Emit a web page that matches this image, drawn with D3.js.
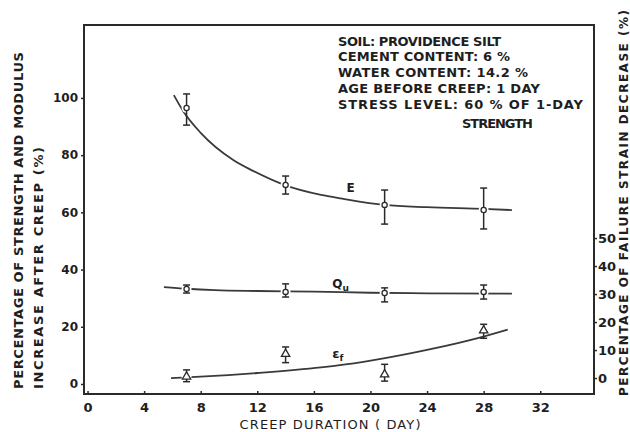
<!DOCTYPE html>
<html>
<head>
<meta charset="utf-8">
<script src="https://cdn.jsdelivr.net/npm/d3@7"></script>
<style>
  body { margin: 0; background: #fff; }
  svg text { font-family: 'DejaVu Sans', sans-serif; fill: #1e1e1e; }
</style>
</head>
<body>
<svg id="canvas" width="630" height="432"></svg>
<script>
// Measured points (creep duration, days)
let days = [7, 14, 21, 28];

// E (modulus increase, left axis)
let eMean = [96.5, 69.6, 62.6, 60.8];
let eHigh = [101.4, 72.7, 67.8, 68.5];
let eLow = [90.5, 66.4, 55.9, 54.2];

// Qu (strength increase, left axis)
let quMean = [33.2, 32.2, 31.8, 32.2];
let quHigh = [34.6, 35.0, 33.6, 34.6];
let quLow = [31.8, 30.4, 28.7, 29.7];

// failure strain decrease (right axis)
let efMean = [0.5, 8.6, 1.3, 17.0];
let efHigh = [2.9, 11.1, 4.9, 19.2];
let efLow = [-1.3, 5.5, -1.1, 14.2];

// Fitted curves
let eCurveDays = [6.1, 6.8, 8, 10.3, 11.7, 13.9, 16.5, 18, 21, 24, 28, 30];
let eCurveValues = [101, 95.1, 87.8, 78.3, 74.5, 69.6, 66.1, 64.8, 62.6, 61.8, 61.2, 60.8];
let quCurveDays = [5.4, 7, 9, 12, 16, 20, 24, 30];
let quCurveValues = [33.9, 33.3, 32.8, 32.5, 32.3, 31.9, 31.7, 31.6];
let efCurveDays = [5.9, 8, 12, 16.5, 19.5, 22.8, 27.1, 29.7];
let efCurveValues = [0, 0.5, 1.8, 3.8, 5.8, 8.8, 13.6, 17.3];

// Tick labels
let xTicks = [0, 4, 8, 12, 16, 20, 24, 28, 32];
let leftTicks = [0, 20, 40, 60, 80, 100];
let rightTicks = [0, 10, 20, 30, 40, 50];

let notes = [
    'SOIL: PROVIDENCE  SILT',
    'CEMENT  CONTENT: 6 %',
    'WATER  CONTENT: 14.2 %',
    'AGE  BEFORE  CREEP: 1  DAY',
    'STRESS  LEVEL: 60 %  OF  1-DAY'
];

let canvas = d3.select('#canvas');
let ink = '#2a2a2a';

// Scales
let x = d3.scaleLinear().domain([-0.25, 35.8]).range([84, 594]);
let yLeft = d3.scaleLinear().domain([-3.5, 125.5]).range([394, 25]);
let yRight = d3.scaleLinear().domain([-5.7, 126.1]).range([394, 25]);

// Frame
canvas.append('rect')
    .attr('x', 84).attr('y', 25)
    .attr('width', 510).attr('height', 369)
    .attr('fill', 'none')
    .attr('stroke', ink)
    .attr('stroke-width', 2);

// Axes
let styleAxis = (g, size) => {
    g.select('.domain').remove();
    g.selectAll('line').attr('stroke', ink).attr('stroke-width', 1.5);
    g.selectAll('text')
        .style('font-size', size + 'px')
        .style('font-weight', 'bold')
        .attr('fill', '#1e1e1e');
};

canvas.append('g')
    .attr('transform', 'translate(84,0)')
    .call(d3.axisLeft(yLeft).tickValues(leftTicks).tickSize(3).tickPadding(3))
    .call((g) => styleAxis(g, 12));

canvas.append('g')
    .attr('transform', 'translate(0,394)')
    .call(d3.axisBottom(x).tickValues(xTicks).tickSize(-3).tickPadding(9))
    .call((g) => styleAxis(g, 13));

canvas.append('g')
    .attr('transform', 'translate(594,0)')
    .call(d3.axisRight(yRight).tickValues(rightTicks).tickSize(3).tickPadding(1))
    .call((g) => styleAxis(g, 13));

// Axis titles
canvas.append('text')
    .attr('x', 330).attr('y', 429)
    .attr('text-anchor', 'middle')
    .attr('textLength', 181)
    .style('font-size', '13px')
    .text('CREEP  DURATION  ( DAY)');

canvas.append('text')
    .attr('transform', 'translate(23,389) rotate(-90)')
    .attr('textLength', 337)
    .style('font-size', '13px')
    .style('font-weight', 'bold')
    .text('PERCENTAGE  OF  STRENGTH  AND  MODULUS');

canvas.append('text')
    .attr('transform', 'translate(43,389) rotate(-90)')
    .attr('textLength', 242)
    .style('font-size', '13px')
    .style('font-weight', 'bold')
    .text('INCREASE  AFTER  CREEP  (%)');

canvas.append('text')
    .attr('transform', 'translate(628,396) rotate(-90)')
    .attr('textLength', 386)
    .style('font-size', '12px')
    .style('font-weight', 'bold')
    .text('PERCENTAGE  OF  FAILURE  STRAIN  DECREASE  (%)');

// Notes
let noteWidths = [163, 172, 190, 202, 245];
let noteBase = [46, 61, 77, 93, 109];
notes.forEach((line, i) => {
    canvas.append('text')
        .attr('x', 338).attr('y', noteBase[i])
        .attr('textLength', noteWidths[i])
        .style('font-size', '13px')
        .style('font-weight', 'bold')
        .text(line);
});
canvas.append('text')
    .attr('x', 462).attr('y', 128)
    .attr('textLength', 71)
    .style('font-size', '13px')
    .style('font-weight', 'bold')
    .text('STRENGTH');

// Curves
let drawCurve = (cx, cy, yScale) => {
    let pts = cx.map((d, i) => [d, cy[i]]);
    canvas.append('path')
        .datum(pts)
        .attr('fill', 'none')
        .attr('stroke', '#3a3a3a')
        .attr('stroke-width', 1.8)
        .attr('d', d3.line()
            .x((d) => x(d[0]))
            .y((d) => yScale(d[1]))
            .curve(d3.curveMonotoneX));
};
drawCurve(eCurveDays, eCurveValues, yLeft);
drawCurve(quCurveDays, quCurveValues, yLeft);
drawCurve(efCurveDays, efCurveValues, yRight);

// Points with error bars
let drawPoints = (mean, high, low, yScale, shape) => {
    let g = canvas.append('g');
    days.forEach((d, i) => {
        let px = x(d);
        g.append('circle')
            .attr('cx', px).attr('cy', yScale(mean[i]))
            .attr('r', 5).attr('fill', '#fff');
        g.append('line')
            .attr('x1', px).attr('x2', px)
            .attr('y1', yScale(high[i])).attr('y2', yScale(low[i]))
            .attr('stroke', ink).attr('stroke-width', 1.5);
        [high[i], low[i]].forEach((v) => {
            g.append('line')
                .attr('x1', px - 3.5).attr('x2', px + 3.5)
                .attr('y1', yScale(v)).attr('y2', yScale(v))
                .attr('stroke', ink).attr('stroke-width', 1.5);
        });
        if (shape === 'circle') {
            g.append('circle')
                .attr('cx', px).attr('cy', yScale(mean[i]))
                .attr('r', 2.6)
                .attr('fill', '#fff')
                .attr('stroke', ink).attr('stroke-width', 1.3);
        } else {
            g.append('path')
                .attr('transform', 'translate(' + px + ',' + yScale(mean[i]) + ')')
                .attr('d', d3.symbol(d3.symbolTriangle, 30)())
                .attr('fill', '#fff')
                .attr('stroke', ink).attr('stroke-width', 1.3);
        }
    });
};
drawPoints(eMean, eHigh, eLow, yLeft, 'circle');
drawPoints(quMean, quHigh, quLow, yLeft, 'circle');
drawPoints(efMean, efHigh, efLow, yRight, 'triangle');

// Curve labels
canvas.append('text')
    .attr('x', x(18.3)).attr('y', yLeft(67.1))
    .style('font-size', '12px')
    .style('font-weight', 'bold')
    .text('E');

let qu = canvas.append('text')
    .attr('x', x(17.3)).attr('y', yLeft(33.6))
    .style('font-size', '12px')
    .style('font-weight', 'bold');
qu.append('tspan').text('Q');
qu.append('tspan').attr('dy', 3).style('font-size', '9px').text('u');

let ef = canvas.append('text')
    .attr('x', x(17.3)).attr('y', yRight(7.2))
    .style('font-size', '13px')
    .style('font-weight', 'bold');
ef.append('tspan').text('ε');
ef.append('tspan').attr('dy', 3).style('font-size', '9px').text('f');
</script>
</body>
</html>
